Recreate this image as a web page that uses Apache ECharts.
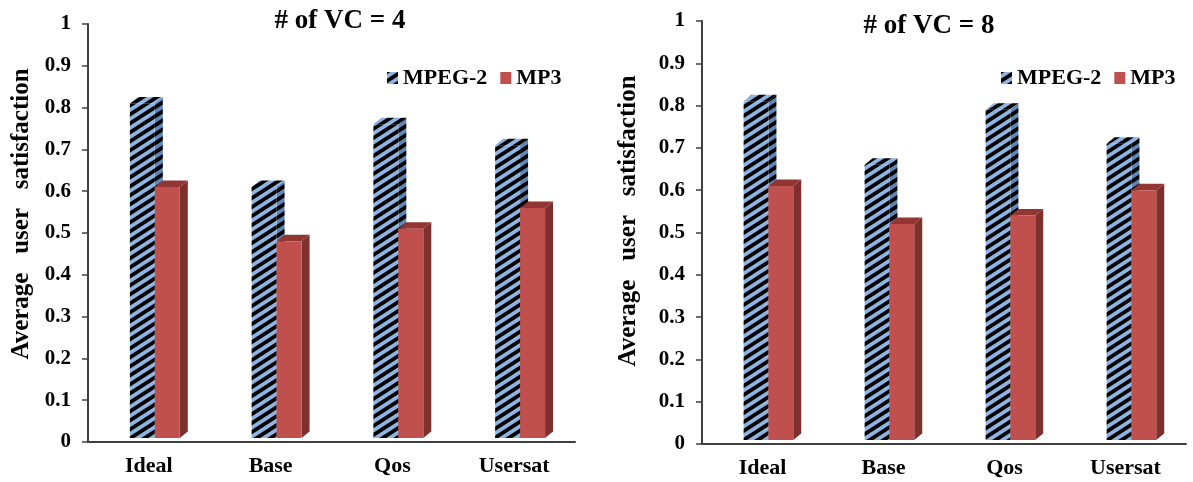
<!DOCTYPE html>
<html>
<head>
<meta charset="utf-8">
<script src="https://cdn.jsdelivr.net/npm/echarts@6/dist/echarts.min.js"></script>
<style>
  html, body { margin: 0; padding: 0; background: #fff; }
  #chart { width: 1193px; height: 482px; }
</style>
</head>
<body>
<div id="chart"></div>
<script>
// ---- data ----
var categories = ['Ideal', 'Base', 'Qos', 'Usersat'];
var seriesNames = ['MPEG-2', 'MP3'];
var vc4Mpeg2 = [0.81, 0.61, 0.76, 0.71];
var vc4Mp3   = [0.61, 0.48, 0.51, 0.56];
var vc8Mpeg2 = [0.81, 0.66, 0.79, 0.71];
var vc8Mp3   = [0.61, 0.52, 0.54, 0.60];
var titles = ['# of VC = 4', '# of VC = 8'];
var yAxisName = 'Average   user   satisfaction';

// ---- styles ----
var FONT = "'Liberation Serif', 'Times New Roman', serif";

function stripe(base) {
  var w = 14, h = 9;
  var c = document.createElement('canvas');
  c.width = w; c.height = h;
  var ctx = c.getContext('2d');
  ctx.fillStyle = base;
  ctx.fillRect(0, 0, w, h);
  ctx.strokeStyle = '#000';
  ctx.lineWidth = 3.8;
  for (var k = -1; k <= 1; k++) {
    ctx.beginPath();
    ctx.moveTo(k * w - w, 2 * h);
    ctx.lineTo(k * w + 2 * w, -h);
    ctx.stroke();
  }
  return { image: c, repeat: 'repeat' };
}

var mpegColors = { front: stripe('#8DB4E2'), side: stripe('#5F86B8'), top: stripe('#8DB4E2') };
var mp3Colors = { front: '#C0504D', side: '#7E302E', top: '#923633' };

function makeRender(slot, colors) {
  return function (params, api) {
    var cat = api.value(0), v = api.value(1);
    var top = api.coord([cat, v]);
    var base = api.coord([cat, 0]);
    var band = api.size([1, 0])[0];
    var w = band * 0.205;
    var x0 = top[0] - band * 0.156 + slot * w;
    var x1 = x0 + w;
    var yT = top[1];
    var yB = base[1] - 4;
    var dx = 8, dy = 6.5;
    return {
      type: 'group',
      children: [
        { type: 'polygon', shape: { points: [[x1, yT], [x1 + dx, yT - dy], [x1 + dx, yB - dy], [x1, yB]] }, style: { fill: colors.side } },
        { type: 'polygon', shape: { points: [[x0, yT], [x1, yT], [x1 + dx, yT - dy], [x0 + dx, yT - dy]] }, style: { fill: colors.top } },
        { type: 'rect', shape: { x: x0, y: yT, width: w, height: yB - yT }, style: { fill: colors.front } }
      ]
    };
  };
}

function toData(arr) {
  return arr.map(function (v, i) { return [i, v]; });
}

function xAxisFor(gi) {
  return {
    type: 'category', gridIndex: gi, data: categories,
    axisTick: { show: false },
    axisLine: { lineStyle: { color: '#404040', width: 2 } },
    axisLabel: { color: '#000', fontFamily: FONT, fontWeight: 'bold', fontSize: 22, margin: 13 },
    splitLine: { show: false }
  };
}
function yAxisFor(gi) {
  return {
    type: 'value', gridIndex: gi, min: 0, max: 1, interval: 0.1,
    axisLine: { show: true, lineStyle: { color: '#404040', width: 2 } },
    axisTick: { show: true, length: 6, lineStyle: { color: '#404040', width: 1.5 } },
    axisLabel: { color: '#000', fontFamily: FONT, fontWeight: 'bold', fontSize: 21, margin: 17 },
    splitLine: { show: false }
  };
}

function legendFor(left, top) {
  return {
    left: left, top: top, padding: 0, icon: 'rect',
    itemWidth: 11, itemHeight: 12, itemGap: 13,
    data: seriesNames, selectedMode: false,
    textStyle: { color: '#000', fontFamily: FONT, fontWeight: 'bold', fontSize: 22 }
  };
}

function barSeries(name, arr, gi, slot, colors) {
  return {
    type: 'custom', name: name, xAxisIndex: gi, yAxisIndex: gi,
    itemStyle: { color: colors.front },
    encode: { x: 0, y: 1 },
    data: toData(arr),
    renderItem: makeRender(slot, colors)
  };
}

var chart = echarts.init(document.getElementById('chart'), null, { renderer: 'canvas' });
chart.setOption({
  backgroundColor: '#fff',
  animation: false,
  grid: [
    { left: 88, right: 1193 - 575, top: 24, bottom: 482 - 442 },
    { left: 702, right: 1193 - 1186, top: 21, bottom: 482 - 444 }
  ],
  xAxis: [xAxisFor(0), xAxisFor(1)],
  yAxis: [yAxisFor(0), yAxisFor(1)],
  legend: [legendFor(387, 67), legendFor(1001, 67)],
  graphic: [
    { type: 'text', x: 340, y: 21, style: { text: titles[0], font: 'bold 27px ' + FONT, fill: '#000', align: 'center', verticalAlign: 'middle' } },
    { type: 'text', x: 929, y: 26, style: { text: titles[1], font: 'bold 27px ' + FONT, fill: '#000', align: 'center', verticalAlign: 'middle' } },
    { type: 'text', x: 22, y: 214, rotation: Math.PI / 2, style: { text: yAxisName, font: 'bold 25px ' + FONT, fill: '#000', align: 'center', verticalAlign: 'middle' } },
    { type: 'text', x: 629, y: 221, rotation: Math.PI / 2, style: { text: yAxisName, font: 'bold 25px ' + FONT, fill: '#000', align: 'center', verticalAlign: 'middle' } }
  ],
  series: [
    barSeries(seriesNames[0], vc4Mpeg2, 0, 0, mpegColors),
    barSeries(seriesNames[1], vc4Mp3, 0, 1, mp3Colors),
    barSeries(seriesNames[0], vc8Mpeg2, 1, 0, mpegColors),
    barSeries(seriesNames[1], vc8Mp3, 1, 1, mp3Colors)
  ]
});
</script>
</body>
</html>
